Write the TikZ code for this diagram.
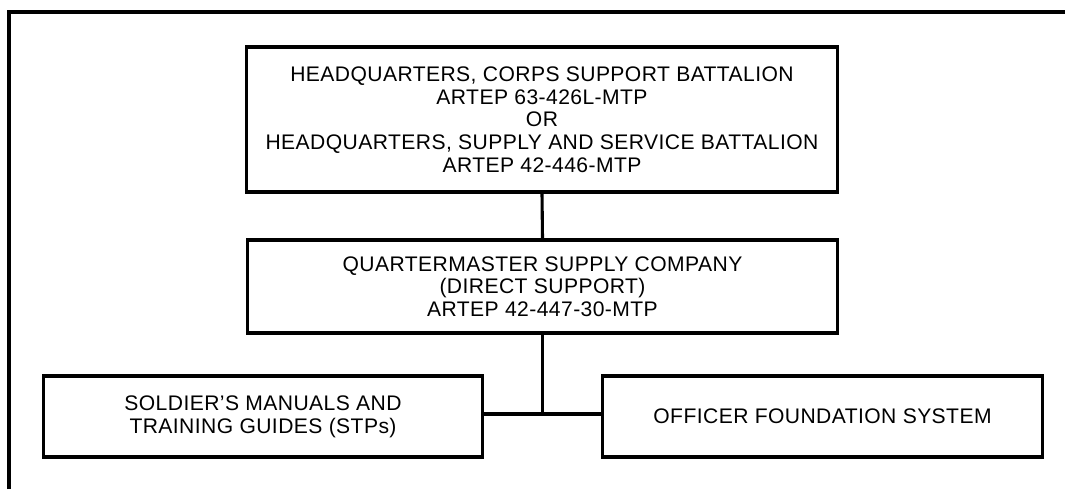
\documentclass[tikz,border=0pt]{standalone}
\usepackage{fontspec}
\setmainfont{Liberation Sans}[LetterSpace=2]
\usepackage{tikz}

\begin{document}
\begin{tikzpicture}[x=0.025cm, y=-0.025cm, line width=2.2pt,
    unit/.style={draw=black, align=center, inner sep=0pt, font=\fontsize{15}{16.1}\selectfont}]
    \useasboundingbox (0,0) rectangle (1065,489);

    % frame
    \draw (9,489) -- (9,12) -- (1065,12);

    \node[unit, minimum width=14.75cm, minimum height=3.625cm] (hq_bn) at (542, 119.5) {HEADQUARTERS, CORPS SUPPORT BATTALION\\ARTEP 63-426L-MTP\\OR\\HEADQUARTERS, SUPPLY AND SERVICE BATTALION\\ARTEP 42-446-MTP};
    \node[unit, minimum width=14.725cm, minimum height=2.325cm] (qm_co) at (542.5, 286.5) {QUARTERMASTER SUPPLY COMPANY\\(DIRECT SUPPORT)\\ARTEP 42-447-30-MTP};

    \node[unit, minimum width=10.95cm, minimum height=2.025cm] (smtg) at (263, 416.5) {SOLDIER'S MANUALS AND\\TRAINING GUIDES (STPs)};
    \node[unit, minimum width=10.975cm, minimum height=2.025cm] (ofs) at (822.5, 416.5) {OFFICER FOUNDATION SYSTEM};

    \coordinate (jn) at (qm_co.south |- 0,414);

    \draw (hq_bn.south) -- (qm_co.north);
    \draw (qm_co.south) -- (jn);
    \draw (smtg.east |- jn) -- (ofs.west |- jn);
  \end{tikzpicture}
\end{document}
